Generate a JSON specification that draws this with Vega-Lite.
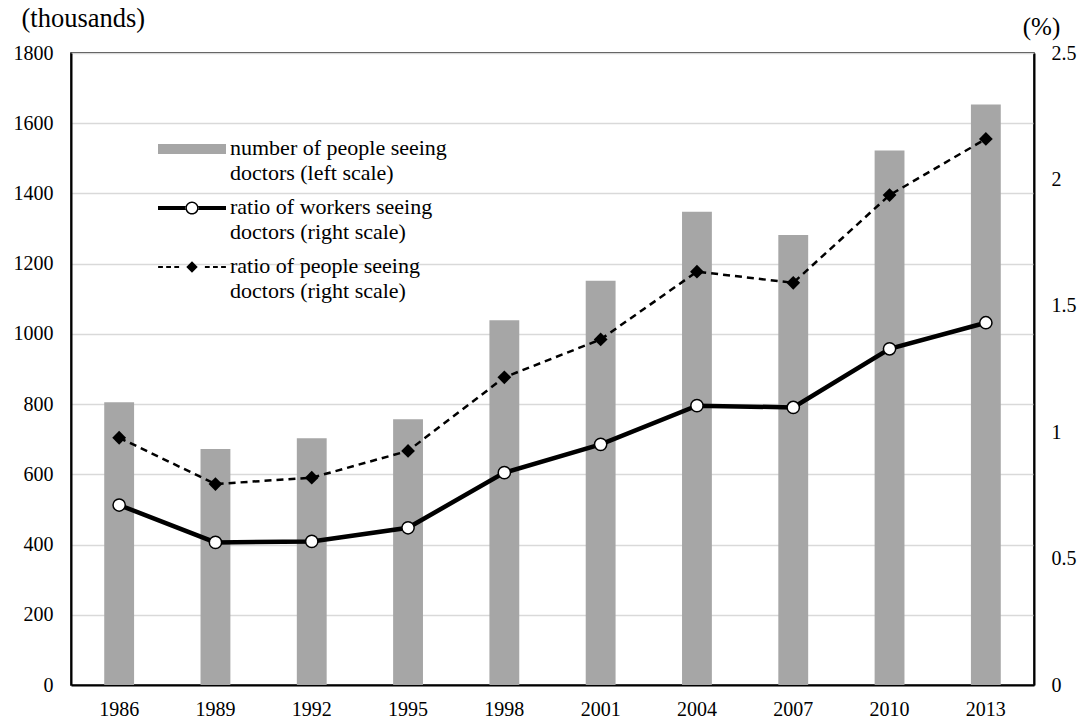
{
  "$schema": "https://vega.github.io/schema/vega-lite/v6.json",
  "width": 963,
  "height": 632,
  "autosize": "none",
  "padding": {"left": 71, "top": 53, "right": 55, "bottom": 40},
  "background": "white",
  "config": {
    "font": "Times New Roman, Liberation Serif, serif",
    "view": {"stroke": "black", "strokeWidth": 1.5},
    "axis": {
      "labelFont": "Times New Roman, Liberation Serif, serif",
      "labelFontSize": 20,
      "labelColor": "black",
      "titleFont": "Times New Roman, Liberation Serif, serif",
      "titleFontSize": 25,
      "titleFontWeight": "normal",
      "titleColor": "black",
      "domainColor": "black",
      "domainWidth": 2,
      "ticks": false
    },
    "legend": {
      "labelFont": "Times New Roman, Liberation Serif, serif"
    }
  },
  "data": {
    "values": [
      {"year": "1986", "series": "number of people seeing doctors (left scale)", "value": 805},
      {"year": "1989", "series": "number of people seeing doctors (left scale)", "value": 672},
      {"year": "1992", "series": "number of people seeing doctors (left scale)", "value": 703},
      {"year": "1995", "series": "number of people seeing doctors (left scale)", "value": 757},
      {"year": "1998", "series": "number of people seeing doctors (left scale)", "value": 1039},
      {"year": "2001", "series": "number of people seeing doctors (left scale)", "value": 1151},
      {"year": "2004", "series": "number of people seeing doctors (left scale)", "value": 1348},
      {"year": "2007", "series": "number of people seeing doctors (left scale)", "value": 1282},
      {"year": "2010", "series": "number of people seeing doctors (left scale)", "value": 1522},
      {"year": "2013", "series": "number of people seeing doctors (left scale)", "value": 1653},
      {"year": "1986", "series": "ratio of workers seeing doctors (right scale)", "value": 0.712},
      {"year": "1989", "series": "ratio of workers seeing doctors (right scale)", "value": 0.564},
      {"year": "1992", "series": "ratio of workers seeing doctors (right scale)", "value": 0.568},
      {"year": "1995", "series": "ratio of workers seeing doctors (right scale)", "value": 0.622},
      {"year": "1998", "series": "ratio of workers seeing doctors (right scale)", "value": 0.840},
      {"year": "2001", "series": "ratio of workers seeing doctors (right scale)", "value": 0.952},
      {"year": "2004", "series": "ratio of workers seeing doctors (right scale)", "value": 1.105},
      {"year": "2007", "series": "ratio of workers seeing doctors (right scale)", "value": 1.098},
      {"year": "2010", "series": "ratio of workers seeing doctors (right scale)", "value": 1.330},
      {"year": "2013", "series": "ratio of workers seeing doctors (right scale)", "value": 1.433},
      {"year": "1986", "series": "ratio of people seeing doctors (right scale)", "value": 0.978},
      {"year": "1989", "series": "ratio of people seeing doctors (right scale)", "value": 0.795},
      {"year": "1992", "series": "ratio of people seeing doctors (right scale)", "value": 0.820},
      {"year": "1995", "series": "ratio of people seeing doctors (right scale)", "value": 0.926},
      {"year": "1998", "series": "ratio of people seeing doctors (right scale)", "value": 1.217},
      {"year": "2001", "series": "ratio of people seeing doctors (right scale)", "value": 1.367},
      {"year": "2004", "series": "ratio of people seeing doctors (right scale)", "value": 1.635},
      {"year": "2007", "series": "ratio of people seeing doctors (right scale)", "value": 1.591},
      {"year": "2010", "series": "ratio of people seeing doctors (right scale)", "value": 1.938},
      {"year": "2013", "series": "ratio of people seeing doctors (right scale)", "value": 2.160}
    ]
  },
  "encoding": {
    "x": {
      "field": "year",
      "type": "ordinal",
      "scale": {"paddingInner": 0, "paddingOuter": 0},
      "axis": {"title": null, "labelAngle": 0, "labelPadding": 14, "grid": false}
    },
    "color": {
      "field": "series",
      "type": "nominal",
      "scale": {
        "domain": [
          "number of people seeing doctors (left scale)",
          "ratio of workers seeing doctors (right scale)",
          "ratio of people seeing doctors (right scale)"
        ],
        "range": ["#a6a6a6", "black", "black"]
      },
      "legend": {
        "orient": "none",
        "legendX": 110,
        "legendY": 85,
        "title": null,
        "direction": "vertical",
        "symbolSize": 400,
        "symbolStrokeWidth": 0,
        "labelFont": "Times New Roman, Liberation Serif, serif",
        "labelFontSize": 22,
        "labelColor": "black",
        "labelLimit": 400,
        "labelOffset": 27,
        "labelBaseline": "top",
        "rowPadding": 12,
        "labelExpr": "[substring(datum.label, 0, indexof(datum.label, ' doctors')), substring(datum.label, indexof(datum.label, ' doctors') + 1)]",
        "encode": {
          "labels": {"update": {"lineHeight": {"value": 24.5}, "dy": {"value": -11}}},
          "symbols": {
            "update": {
              "shape": {"signal": "indexof(datum.value, 'number') === 0 ? 'M-3.4,-0.51H3.4V0.51H-3.4Z' : indexof(datum.value, 'workers') > 0 ? 'M-3.4,-0.21H-0.63V0.21H-3.4Z M0.63,-0.21H3.4V0.21H0.63Z M-0.66,0A0.66,0.66 0 1,0 0.66,0A0.66,0.66 0 1,0 -0.66,0Z M-0.51,0A0.51,0.51 0 1,1 0.51,0A0.51,0.51 0 1,1 -0.51,0Z' : 'M-3.39,-0.104H-2.909V0.104H-3.39Z M-2.581,-0.104H-2.1V0.104H-2.581Z M-1.769,-0.104H-1.29V0.104H-1.769Z M1.29,-0.104H1.769V0.104H1.29Z M2.1,-0.104H2.581V0.104H2.1Z M2.909,-0.104H3.39V0.104H2.909Z M0,-0.571L0.571,0L0,0.571L-0.571,0Z'"},
              "fill": {"signal": "indexof(datum.value, 'number') === 0 ? '#a6a6a6' : 'black'"},
              "stroke": {"value": "transparent"},
              "strokeWidth": {"value": 0},
              "opacity": {"value": 1},
              "fillOpacity": {"value": 1}
            }
          }
        }
      }
    }
  },
  "layer": [
    {
      "transform": [{"filter": "indexof(datum.series, 'number') === 0"}],
      "mark": {"type": "bar", "width": {"band": 0.31}},
      "encoding": {
        "y": {
          "field": "value",
          "type": "quantitative",
          "scale": {"domain": [0, 1800], "nice": false},
          "axis": {
            "values": [0, 200, 400, 600, 800, 1000, 1200, 1400, 1600, 1800],
            "format": "d",
            "grid": true,
            "gridColor": "#d9d9d9",
            "gridWidth": 1.5,
            "labelPadding": 18,
            "title": "(thousands)",
            "titleFontSize": 26.5,
            "titleAngle": 0,
            "titleAlign": "left",
            "titleBaseline": "alphabetic",
            "titleX": -50,
            "titleY": -27
          }
        }
      }
    },
    {
      "encoding": {
        "y": {
          "field": "value",
          "type": "quantitative",
          "scale": {"domain": [0, 2.5], "nice": false},
          "axis": {
            "orient": "right",
            "values": [0, 0.5, 1, 1.5, 2, 2.5],
            "format": ".2~f",
            "grid": false,
            "labelPadding": 17,
            "title": "(%)",
            "titleAngle": 0,
            "titleAlign": "center",
            "titleBaseline": "alphabetic",
            "titleX": 7,
            "titleY": -19
          }
        }
      },
      "layer": [
        {
          "transform": [{"filter": "indexof(datum.series, 'ratio of people') === 0"}],
          "mark": {"type": "line", "strokeWidth": 2.5, "strokeDash": [7, 5]}
        },
        {
          "transform": [{"filter": "indexof(datum.series, 'workers') > 0"}],
          "mark": {"type": "line", "strokeWidth": 4.5}
        },
        {
          "transform": [{"filter": "indexof(datum.series, 'ratio of people') === 0"}],
          "mark": {"type": "point", "shape": "diamond", "filled": true, "size": 190, "opacity": 1}
        },
        {
          "transform": [{"filter": "indexof(datum.series, 'workers') > 0"}],
          "mark": {"type": "point", "shape": "circle", "filled": false, "fill": "white", "stroke": "black", "strokeWidth": 1.5, "size": 150, "opacity": 1},
          "encoding": {"color": {"value": "black"}}
        }
      ]
    }
  ],
  "resolve": {"scale": {"y": "independent"}}
}
